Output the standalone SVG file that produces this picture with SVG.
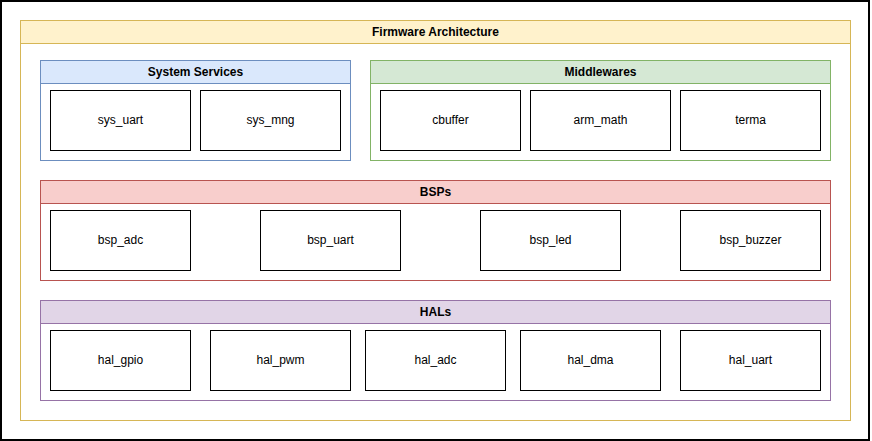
<svg xmlns="http://www.w3.org/2000/svg" width="872" height="441" viewBox="0 0 872 441">
<style>
.hdr{font-family:"Liberation Sans",Arial,sans-serif;font-size:12px;font-weight:bold;fill:#000;text-anchor:middle}
.lbl{font-family:"Liberation Sans",Arial,sans-serif;font-size:12px;fill:#000;text-anchor:middle}
.box{fill:#fff;stroke:#000;stroke-width:1}
</style>
<rect x="0" y="0" width="872" height="441" fill="#fff"/>
<rect x="1" y="1" width="868" height="439" fill="none" stroke="#000" stroke-width="2"/>
<g id="firmware">
<rect x="20.5" y="20.5" width="830" height="400" fill="#fff" stroke="#d6b656"/>
<rect x="20.5" y="20.5" width="830" height="23" fill="#fff2cc" stroke="#d6b656"/>
<text class="hdr" x="435.5" y="36">Firmware Architecture</text>
</g>
<g id="system-services">
<rect x="40.5" y="60.5" width="310" height="100" fill="#fff" stroke="#6c8ebf"/>
<rect x="40.5" y="60.5" width="310" height="23" fill="#dae8fc" stroke="#6c8ebf"/>
<text class="hdr" x="195.5" y="76">System Services</text>
</g>
<g id="sys_uart"><rect class="box" x="50.5" y="90.5" width="140" height="60"/><text class="lbl" x="120.5" y="123.5">sys_uart</text></g>
<g id="sys_mng"><rect class="box" x="200.5" y="90.5" width="140" height="60"/><text class="lbl" x="270.5" y="123.5">sys_mng</text></g>
<g id="middlewares">
<rect x="370.5" y="60.5" width="460" height="100" fill="#fff" stroke="#82b366"/>
<rect x="370.5" y="60.5" width="460" height="23" fill="#d5e8d4" stroke="#82b366"/>
<text class="hdr" x="600.5" y="76">Middlewares</text>
</g>
<g id="cbuffer"><rect class="box" x="380.5" y="90.5" width="140" height="60"/><text class="lbl" x="450.5" y="123.5">cbuffer</text></g>
<g id="arm_math"><rect class="box" x="530.5" y="90.5" width="140" height="60"/><text class="lbl" x="600.5" y="123.5">arm_math</text></g>
<g id="terma"><rect class="box" x="680.5" y="90.5" width="140" height="60"/><text class="lbl" x="750.5" y="123.5">terma</text></g>
<g id="bsps">
<rect x="40.5" y="180.5" width="790" height="100" fill="#fff" stroke="#b85450"/>
<rect x="40.5" y="180.5" width="790" height="23" fill="#f8cecc" stroke="#b85450"/>
<text class="hdr" x="435.5" y="196">BSPs</text>
</g>
<g id="bsp_adc"><rect class="box" x="50.5" y="210.5" width="140" height="60"/><text class="lbl" x="120.5" y="243.5">bsp_adc</text></g>
<g id="bsp_uart"><rect class="box" x="260.5" y="210.5" width="140" height="60"/><text class="lbl" x="330.5" y="243.5">bsp_uart</text></g>
<g id="bsp_led"><rect class="box" x="480.5" y="210.5" width="140" height="60"/><text class="lbl" x="550.5" y="243.5">bsp_led</text></g>
<g id="bsp_buzzer"><rect class="box" x="680.5" y="210.5" width="140" height="60"/><text class="lbl" x="750.5" y="243.5">bsp_buzzer</text></g>
<g id="hals">
<rect x="40.5" y="300.5" width="790" height="100" fill="#fff" stroke="#9673a6"/>
<rect x="40.5" y="300.5" width="790" height="23" fill="#e1d5e7" stroke="#9673a6"/>
<text class="hdr" x="435.5" y="316">HALs</text>
</g>
<g id="hal_gpio"><rect class="box" x="50.5" y="330.5" width="140" height="60"/><text class="lbl" x="120.5" y="363.5">hal_gpio</text></g>
<g id="hal_pwm"><rect class="box" x="210.5" y="330.5" width="140" height="60"/><text class="lbl" x="280.5" y="363.5">hal_pwm</text></g>
<g id="hal_adc"><rect class="box" x="365.5" y="330.5" width="140" height="60"/><text class="lbl" x="435.5" y="363.5">hal_adc</text></g>
<g id="hal_dma"><rect class="box" x="520.5" y="330.5" width="140" height="60"/><text class="lbl" x="590.5" y="363.5">hal_dma</text></g>
<g id="hal_uart"><rect class="box" x="680.5" y="330.5" width="140" height="60"/><text class="lbl" x="750.5" y="363.5">hal_uart</text></g>
<g id="connectors"></g>
</svg>
